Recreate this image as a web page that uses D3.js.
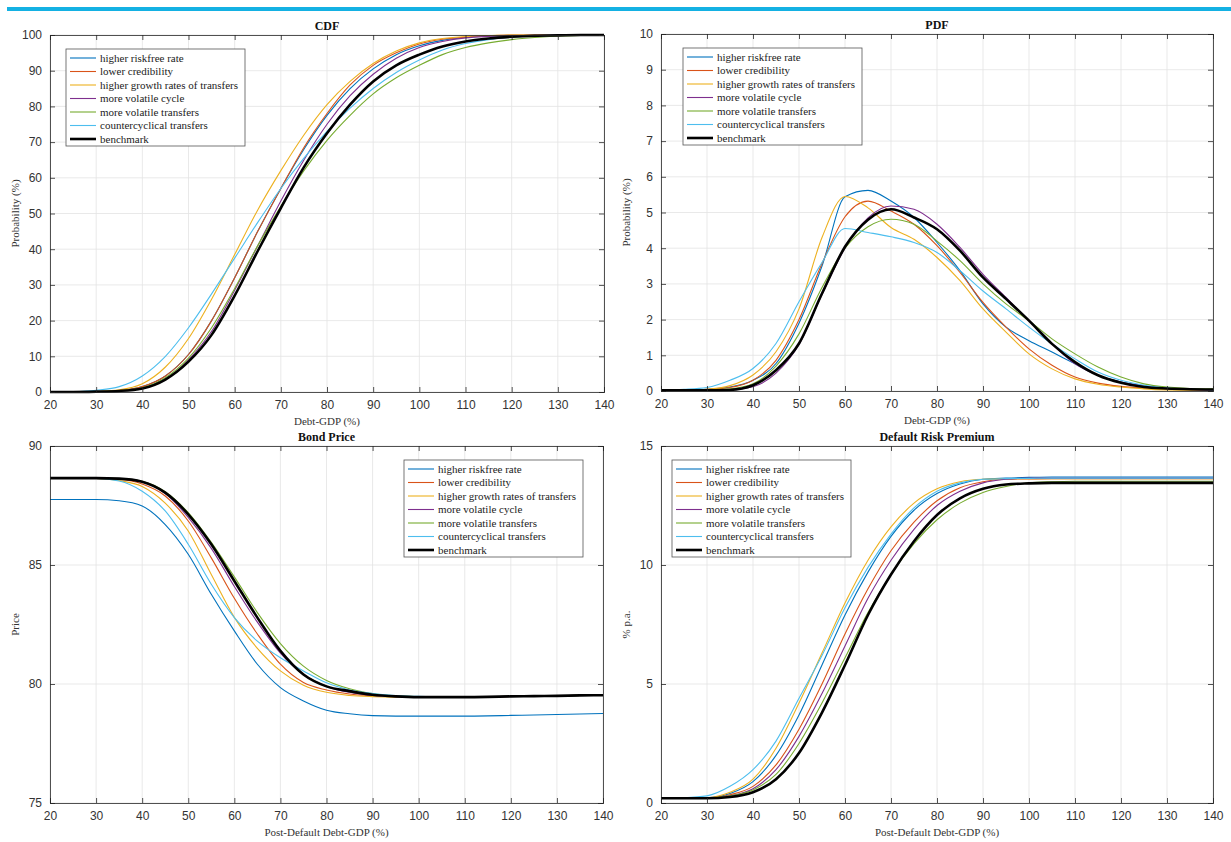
<!DOCTYPE html>
<html><head><meta charset="utf-8">
<script src="https://cdn.jsdelivr.net/npm/d3@7"></script>
<style>body{margin:0;background:#fff}svg{display:block}</style>
</head><body>
<svg id="c" width="1231" height="842"></svg>
<script>
// ---------- DATA ----------
const xs = [20,25,30,35,40,45,50,55,60,65,70,75,80,85,90,95,100,105,110,115,120,125,130,135,140];
const seriesNames = ["higher riskfree rate","lower credibility","higher growth rates of transfers","more volatile cycle","more volatile transfers","countercyclical transfers","benchmark"];
const seriesColors = ["#0072BD","#D95319","#EDB120","#7E2F8E","#77AC30","#4DBEEE","#000000"];
const xTicks = [20,30,40,50,60,70,80,90,100,110,120,130,140];

// CDF (%)
const cdfRiskfree   = [0,0,0.1,0.4,1.5,4.5,10.5,20,32,45,57,68,77.5,85,90.5,94.5,97,98.5,99.3,99.7,99.9,100,100,100,100];
const cdfCredibility= [0,0,0.1,0.4,1.5,4.5,10.5,20,32,45,57,68.5,78,86,91.5,95,97.5,98.8,99.4,99.8,100,100,100,100,100];
const cdfGrowth     = [0,0,0.15,0.6,2.3,7,15,26,38.5,51,62,72,80.5,87,92,95.5,97.8,99,99.6,99.8,100,100,100,100,100];
const cdfCycle      = [0,0,0.05,0.3,1,3.5,9,17,28.5,41,53.5,65,75,83,89,93.5,96.5,98.2,99.2,99.6,99.8,99.9,100,100,100];
const cdfTransfers  = [0,0,0.1,0.35,1.2,4,9.5,18,29,41,52,62,70.5,77.5,83.5,88,91.5,94.5,96.5,97.8,98.7,99.3,99.7,99.9,100];
const cdfCounter    = [0,0.1,0.5,1.5,4.5,10,18,27.5,37.5,47.5,57,65.5,73,79.5,85,89.5,93,95.8,97.6,98.7,99.4,99.8,100,100,100];
const cdfBenchmark  = [0,0,0.1,0.3,1,3.5,8.5,16,27,39.5,51.5,63,72.5,80.5,87,91.5,94.5,96.8,98.2,99,99.5,99.8,99.9,100,100];

// PDF (%)
const pdfRiskfree   = [0.02,0.03,0.05,0.11,0.3,0.77,1.9,3.5,5.44,5.62,5.32,4.86,4.16,3.37,2.44,1.79,1.41,1.09,0.76,0.44,0.25,0.14,0.07,0.04,0.03];
const pdfCredibility= [0.02,0.03,0.05,0.1,0.3,0.86,2.0,3.57,4.88,5.32,5.04,4.67,4.07,3.32,2.48,1.79,1.18,0.72,0.39,0.22,0.13,0.08,0.05,0.03,0.02];
const pdfGrowth     = [0.02,0.03,0.05,0.15,0.45,1.1,2.3,4.3,5.45,5.13,4.58,4.25,3.74,3.09,2.3,1.65,1.04,0.62,0.34,0.19,0.11,0.06,0.03,0.02,0.02];
const pdfCycle      = [0.02,0.02,0.03,0.04,0.12,0.5,1.3,2.7,4.0,4.85,5.18,5.09,4.67,4.02,3.27,2.62,1.97,1.32,0.76,0.44,0.25,0.14,0.07,0.04,0.02];
const pdfTransfers  = [0.02,0.02,0.03,0.06,0.2,0.7,1.6,2.9,4.0,4.6,4.81,4.67,4.2,3.65,3.0,2.44,1.97,1.46,1.04,0.67,0.39,0.2,0.11,0.07,0.06];
const pdfCounter    = [0.03,0.05,0.1,0.3,0.63,1.33,2.5,3.6,4.55,4.44,4.32,4.16,3.88,3.37,2.8,2.3,1.79,1.32,0.9,0.53,0.3,0.16,0.08,0.05,0.03];
const pdfBenchmark  = [0.02,0.02,0.02,0.03,0.16,0.58,1.33,2.73,4.04,4.8,5.09,4.86,4.53,3.93,3.18,2.58,1.97,1.32,0.81,0.44,0.23,0.11,0.07,0.05,0.04];

// Bond price
const bpRiskfree    = [87.75,87.75,87.75,87.7,87.48,86.7,85.45,83.77,82.23,80.83,79.85,79.29,78.9,78.75,78.67,78.65,78.65,78.65,78.65,78.66,78.68,78.7,78.72,78.74,78.76];
const bpCredibility = [88.65,88.65,88.64,88.6,88.4,87.9,86.85,85.3,83.6,82.1,80.83,80.06,79.75,79.58,79.5,79.46,79.45,79.45,79.45,79.46,79.48,79.49,79.5,79.52,79.53];
const bpGrowth      = [88.65,88.65,88.64,88.55,88.3,87.6,86.43,84.6,82.8,81.5,80.55,79.95,79.65,79.52,79.47,79.45,79.45,79.45,79.45,79.46,79.48,79.49,79.5,79.52,79.53];
const bpCycle       = [88.65,88.65,88.65,88.62,88.5,88.0,87.0,85.7,84.1,82.6,81.3,80.4,79.9,79.65,79.52,79.47,79.45,79.45,79.45,79.46,79.48,79.49,79.5,79.52,79.53];
const bpTransfers   = [88.65,88.65,88.65,88.63,88.52,88.08,87.2,85.95,84.5,83.0,81.7,80.75,80.15,79.8,79.6,79.5,79.47,79.46,79.46,79.47,79.48,79.49,79.5,79.52,79.53];
const bpCounter     = [88.65,88.65,88.64,88.53,88.1,87.27,85.87,84.19,82.79,81.8,81.1,80.55,80.05,79.75,79.6,79.52,79.48,79.46,79.46,79.47,79.48,79.49,79.5,79.52,79.53];
const bpBenchmark   = [88.65,88.65,88.65,88.63,88.5,88.04,87.13,85.87,84.33,82.79,81.39,80.4,79.9,79.7,79.55,79.48,79.45,79.45,79.45,79.46,79.48,79.49,79.5,79.52,79.53];

// Default risk premium (% p.a.)
const drpRiskfree   = [0.2,0.2,0.22,0.4,0.9,2.0,3.7,5.8,7.9,9.7,11.2,12.3,13.0,13.4,13.6,13.65,13.68,13.7,13.7,13.7,13.7,13.7,13.7,13.7,13.7];
const drpCredibility= [0.2,0.2,0.2,0.35,0.7,1.6,3.1,5.0,7.1,9.0,10.6,11.8,12.7,13.25,13.5,13.6,13.62,13.63,13.63,13.63,13.63,13.63,13.63,13.63,13.63];
const drpGrowth     = [0.2,0.2,0.22,0.45,1.0,2.3,4.2,6.3,8.4,10.2,11.6,12.6,13.2,13.5,13.6,13.62,13.63,13.63,13.63,13.63,13.63,13.63,13.63,13.63,13.63];
const drpCycle      = [0.2,0.2,0.2,0.3,0.6,1.4,2.8,4.6,6.6,8.6,10.2,11.5,12.5,13.1,13.45,13.6,13.65,13.65,13.65,13.65,13.65,13.65,13.65,13.65,13.65];
const drpTransfers  = [0.2,0.2,0.2,0.3,0.55,1.2,2.5,4.2,6.1,8.0,9.6,10.9,11.9,12.6,13.05,13.3,13.45,13.5,13.52,13.52,13.52,13.52,13.52,13.52,13.52];
const drpCounter    = [0.2,0.22,0.3,0.7,1.4,2.6,4.4,6.2,8.2,9.9,11.3,12.4,13.1,13.45,13.6,13.63,13.64,13.65,13.65,13.65,13.65,13.65,13.65,13.65,13.65];
const drpBenchmark  = [0.2,0.2,0.2,0.25,0.45,1.0,2.1,3.8,5.8,7.9,9.6,11.0,12.1,12.8,13.2,13.38,13.43,13.45,13.45,13.45,13.45,13.45,13.45,13.45,13.45];

const cdfTicks = [0,10,20,30,40,50,60,70,80,90,100];
const pdfTicks = [0,1,2,3,4,5,6,7,8,9,10];
const bpTicks  = [75,80,85,90];
const drpTicks = [0,5,10,15];

// ---------- DRAW ----------
const svg = d3.select("#c");
svg.append("rect").attr("x",7).attr("y",7).attr("width",1224).attr("height",4).attr("fill","#14b1e3");

const panels = [
  {title:"CDF", xlabel:"Debt-GDP (%)", ylabel:"Probability (%)", l:50,r:604,t:35,b:392, yd:[0,100], yt:cdfTicks,
   data:[cdfRiskfree,cdfCredibility,cdfGrowth,cdfCycle,cdfTransfers,cdfCounter,cdfBenchmark], leg:{x:66,y:49}},
  {title:"PDF", xlabel:"Debt-GDP (%)", ylabel:"Probability (%)", l:661,r:1213,t:34,b:391, yd:[0,10], yt:pdfTicks,
   data:[pdfRiskfree,pdfCredibility,pdfGrowth,pdfCycle,pdfTransfers,pdfCounter,pdfBenchmark], leg:{x:683,y:48}},
  {title:"Bond Price", xlabel:"Post-Default Debt-GDP (%)", ylabel:"Price", l:50,r:603,t:446,b:803, yd:[75,90], yt:bpTicks,
   data:[bpRiskfree,bpCredibility,bpGrowth,bpCycle,bpTransfers,bpCounter,bpBenchmark], leg:{x:404,y:460}},
  {title:"Default Risk Premium", xlabel:"Post-Default Debt-GDP (%)", ylabel:"% p.a.", l:661,r:1213,t:446,b:803, yd:[0,15], yt:drpTicks,
   data:[drpRiskfree,drpCredibility,drpGrowth,drpCycle,drpTransfers,drpCounter,drpBenchmark], leg:{x:672,y:460}}
];

const axisCol = "#262626";
panels.forEach(p => {
  const x = d3.scaleLinear().domain([20,140]).range([p.l,p.r]);
  const y = d3.scaleLinear().domain(p.yd).range([p.b,p.t]);
  const g = svg.append("g");
  // grid
  g.append("g").selectAll("line").data(xTicks).join("line")
    .attr("x1",d=>x(d)).attr("x2",d=>x(d)).attr("y1",p.t).attr("y2",p.b)
    .attr("stroke","#e3e3e3").attr("stroke-width",0.8);
  g.append("g").selectAll("line").data(p.yt).join("line")
    .attr("y1",d=>y(d)).attr("y2",d=>y(d)).attr("x1",p.l).attr("x2",p.r)
    .attr("stroke","#e3e3e3").attr("stroke-width",0.8);
  // lines
  const line = d3.line().x((d,i)=>x(xs[i])).y(d=>y(d)).curve(d3.curveMonotoneX);
  p.data.forEach((arr,k) => {
    g.append("path").datum(arr).attr("d",line).attr("fill","none")
      .attr("stroke",seriesColors[k]).attr("stroke-width",k===6?2.6:1.1);
  });
  // axes (MATLAB style, ticks inward on all sides)
  const ax = svg.append("g").attr("font-family","Liberation Sans, Arial, sans-serif").attr("font-size",12).attr("fill","#333");
  const bx = d3.axisBottom(x).tickValues(xTicks).tickSize(-5).tickPadding(8).tickFormat(d3.format("d"));
  const tx = d3.axisTop(x).tickValues(xTicks).tickSize(-5).tickFormat("");
  const ly = d3.axisLeft(y).tickValues(p.yt).tickSize(-5).tickPadding(8).tickFormat(d3.format("d"));
  const ry = d3.axisRight(y).tickValues(p.yt).tickSize(-5).tickFormat("");
  [[bx,`translate(0,${p.b})`],[tx,`translate(0,${p.t})`],[ly,`translate(${p.l},0)`],[ry,`translate(${p.r},0)`]].forEach(([a,tr])=>{
    const ag = svg.append("g").attr("transform",tr).call(a);
    ag.select(".domain").attr("stroke",axisCol).attr("stroke-width",0.8);
    ag.selectAll(".tick line").attr("stroke",axisCol).attr("stroke-width",0.8);
    ag.selectAll(".tick text").attr("fill","#333").attr("font-size",12).attr("font-family","Liberation Sans, Arial, sans-serif");
  });
  // title
  svg.append("text").attr("x",(p.l+p.r)/2).attr("y",p.t-5).attr("text-anchor","middle")
    .attr("font-family","Liberation Serif, Times New Roman, serif").attr("font-weight","bold").attr("font-size",12)
    .attr("fill","#111").text(p.title);
  svg.append("text").attr("x",(p.l+p.r)/2).attr("y",p.b+33).attr("text-anchor","middle")
    .attr("font-family","Liberation Serif, Times New Roman, serif").attr("font-size",11)
    .attr("fill","#333").text(p.xlabel);
  const yx = p.l - 31, yy = (p.t+p.b)/2;
  svg.append("text").attr("transform",`translate(${yx},${yy}) rotate(-90)`).attr("text-anchor","middle")
    .attr("font-family","Liberation Serif, Times New Roman, serif").attr("font-size",11)
    .attr("fill","#333").text(p.ylabel);
  // legend
  const lg = svg.append("g").attr("transform",`translate(${p.leg.x},${p.leg.y})`);
  lg.append("rect").attr("width",179).attr("height",97).attr("fill","#fff").attr("stroke","#555").attr("stroke-width",0.8);
  seriesNames.forEach((n,k)=>{
    const yy2 = 9 + k*13.5;
    lg.append("line").attr("x1",4).attr("x2",30).attr("y1",yy2).attr("y2",yy2)
      .attr("stroke",seriesColors[k]).attr("stroke-width",k===6?2.6:1.1);
    lg.append("text").attr("x",34).attr("y",yy2+3.5).attr("font-family","Liberation Serif, Times New Roman, serif")
      .attr("font-size",11).attr("fill","#222").text(n);
  });
});
</script>
</body></html>
